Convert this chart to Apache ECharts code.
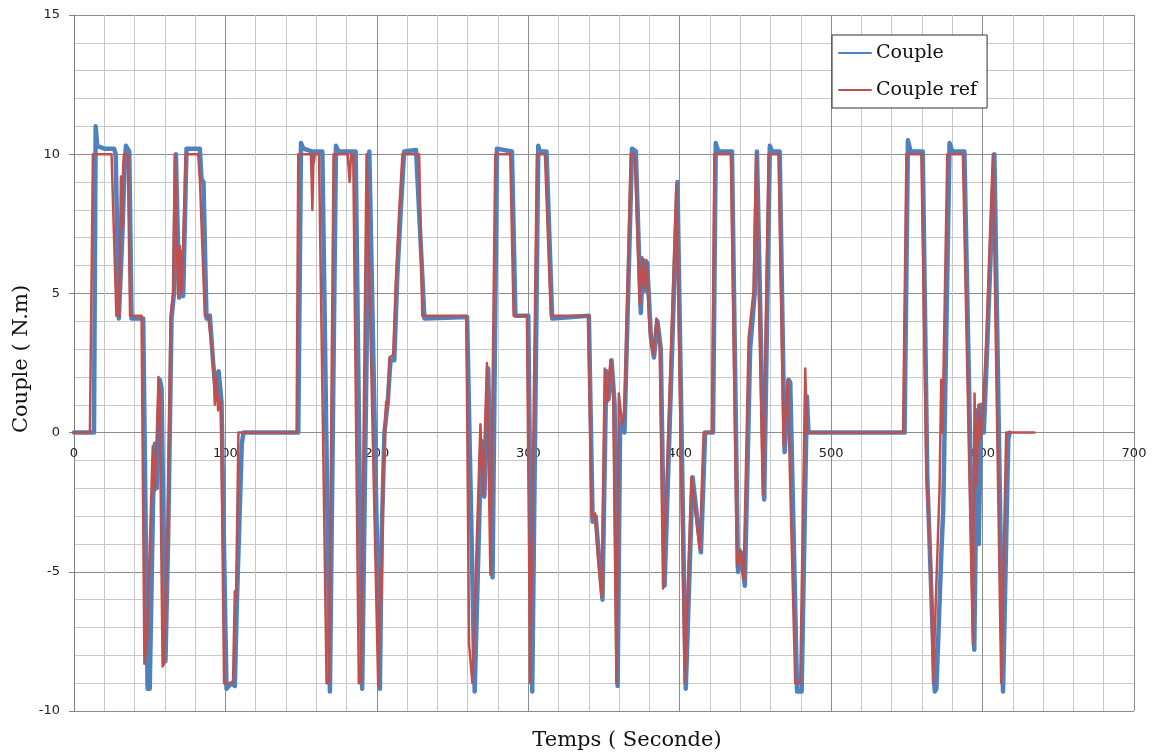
<!DOCTYPE html>
<html>
<head>
<meta charset="utf-8">
<script src="https://cdn.jsdelivr.net/npm/echarts@6/dist/echarts.min.js"></script>
<style>
html,body{margin:0;padding:0;background:#fff;}
#chart{width:1153px;height:756px;}
</style>
</head>
<body>
<div id="chart"></div>
<script>
// ---- data ----
const xTicks = [0, 100, 200, 300, 400, 500, 600, 700];
const yTicks = [-10, -5, 0, 5, 10, 15];

// "Couple ref" (red)
const refT = [0,10.5,12.5,24.8,28.0,29.8,31.0,31.8,32.5,33.0,35.5,37.0,44.6,46.5,47.5,48.2,52.0,53.3,54.5,55.8,56.5,58.5,59.5,62.0,63.8,65.5,66.6,68.8,69.9,70.9,72.0,73.8,82.0,83.2,86.4,88.6,91.9,93.0,94.1,95.2,97.0,99.1,105.0,106.2,107.0,108.6,
147.0,148.1,156.5,157.4,158.2,161.8,166.8,168.4,171.4,180.7,182.0,183.0,184.4,188.1,189.5,193.2,200.9,202.4,203.0,204.4,206.1,207.2,208.3,210.8,212.5,214.7,216.9,227.9,230.0,259.1,260.9,263.1,268.4,270.1,272.7,275.0,278.2,288.1,290.3,299.1,301.3,305.7,
311.0,314.9,339.6,341.8,344.0,346.0,348.4,350.5,352.3,354.3,356.0,358.2,359.8,362.0,363.5,367.7,370.3,373.6,375.2,376.5,378.0,380.2,382.4,384.6,386.8,389.0,397.8,403.3,407.7,413.2,415.8,
421.3,422.9,433.8,437.8,440.0,442.2,445.5,448.8,450.5,454.9,458.7,465.3,468.6,471.2,476.3,479.6,482.9,484.0,
547.5,549.7,559.6,562.9,565.8,567.3,568.5,571.6,572.7,573.5,576.7,587.0,593.6,594.7,596.0,597.3,598.6,600.2,602.4,606.8,612.3,615.6,634.3];
const refV = [0,0,10,10,4.2,4.2,9.2,7.4,9.6,10,10,4.2,4.2,-8.3,-8.3,-7.5,-0.5,-2.1,-0.4,2.0,1.5,-8.4,-8.3,-3.0,4.2,5.0,10,4.85,6.7,5.0,6.6,10,10,9.0,4.2,4.2,2.6,1.0,2.0,0.8,1.2,-9.0,-9.0,-5.7,-6.0,0,
0,10,10,8.0,10,10,-9.0,-9.0,10,10,9.0,10,10,-9.0,-9.0,10,-9.1,-4.9,-6.0,-1.1,1.1,1.0,2.7,2.8,5.4,7.9,10,10,4.2,4.2,-7.6,-9.0,0.3,-2.25,2.5,-5.1,10,10,4.2,4.2,-9.0,10,
10,4.2,4.2,-3.05,-2.9,-4.5,-5.9,2.3,1.1,2.6,1.8,-9.0,1.4,0.3,0.8,10,10,4.6,6.3,5.2,6.2,3.6,2.8,4.1,3.1,-5.6,8.9,-9.0,-1.6,-4.2,0,
0,10,10,-4.8,-4.2,-5.3,3.4,5.1,10,-2.25,10,10,-0.45,1.9,-9.0,-9.0,2.3,0,
0,10,10,-1.45,-4.65,-9.0,-9.0,-2.0,1.9,0,10,10,-7.6,1.4,-1.9,1.0,-0.25,0.7,3.3,10,-9.0,0,0];

// "Couple" (blue)
const cplT = [0,13.2,14.3,15.3,20.0,26.5,27.5,29.6,30.8,32.0,33.2,34.3,36.5,38.0,45.7,48.6,50.0,52.3,53.4,54.6,56.7,57.8,60.4,62.2,64.4,66.0,67.3,69.5,70.6,72.1,74.3,83.1,84.2,85.5,87.5,89.7,91.9,94.1,95.5,97.4,100.7,104.0,106.2,107.5,110.8,111.9,
148.1,149.9,151.5,157.0,157.8,158.6,164.0,169.0,170.0,173.0,174.5,186.0,190.3,191.0,195.0,202.0,203.2,205.0,207.2,209.0,211.5,213.5,215.7,218.0,225.9,231.4,259.6,264.6,265.5,269.0,271.0,273.5,276.4,279.3,289.2,291.5,300.0,302.6,303.5,306.6,307.5,
312.0,315.8,340.0,342.5,344.5,349.0,351.5,353.0,355.0,357.0,359.0,360.6,362.5,363.5,368.5,371.0,374.3,375.8,377.0,378.5,381.0,383.0,385.3,387.5,390.0,398.5,404.0,408.5,414.0,416.8,
422.0,423.8,425.5,434.5,438.5,440.5,443.0,446.5,449.5,451.0,455.8,459.5,461.0,466.0,469.3,472.0,473.0,477.5,480.5,484.0,485.0,
548.5,550.7,552.5,560.5,563.5,568.4,569.5,572.8,574.0,578.2,580.0,588.0,594.5,596.5,597.5,599.0,600.8,603.0,607.8,613.5,614.5,617.0,618.0];
const cplV = [0,0,11.0,10.3,10.2,10.2,10.0,4.1,4.1,7.2,9.2,10.3,10.1,4.1,4.1,-9.2,-9.2,-2.2,-0.4,-2.0,1.9,1.6,-8.2,-3.7,4.1,5.0,10.0,4.85,6.5,4.9,10.2,10.2,9.1,9.0,4.1,4.2,2.5,1.2,2.2,1.1,-9.2,-9.0,-9.1,-6.2,-0.4,0,
0,10.4,10.2,10.1,9.7,10.1,10.1,-9.3,-9.3,10.3,10.1,10.1,-9.2,-9.2,10.1,-9.2,-3.7,0,1.1,2.6,2.6,5.65,7.9,10.1,10.15,4.1,4.15,-9.3,-9.3,-0.3,-2.3,2.3,-5.2,10.2,10.1,4.2,4.2,-9.3,-9.3,10.3,10.1,
10.1,4.1,4.2,-3.2,-3.0,-6.0,2.2,1.2,2.6,1.0,-9.1,0.0,0.5,0.0,10.2,10.1,4.3,6.2,5.1,6.1,3.4,2.7,4.0,3.0,-5.5,9.0,-9.2,-1.6,-4.3,0,
0,10.4,10.1,10.1,-5.0,-4.3,-5.5,3.0,5.0,10.1,-2.4,10.3,10.1,10.1,-0.7,1.9,1.8,-9.3,-9.3,1.3,0,
0,10.5,10.1,10.1,-1.6,-9.3,-9.2,-4.3,-2.8,10.4,10.1,10.1,-7.8,0.8,-4.0,1.0,0.0,3.0,10.0,-9.3,-9.3,-0.2,0];

const pairs = (t, v) => t.map((x, i) => [x, v[i]]);

const GRID_TOP = 15, GRID_BOTTOM = 45, H = 756;
const plotH = H - GRID_TOP - GRID_BOTTOM;
const yMin = yTicks[0], yMax = yTicks[yTicks.length - 1];
// distance from the bottom edge of the plot up to the value 0 (x axis crosses there)
const zeroOffset = plotH * (0 - yMin) / (yMax - yMin);

const MAJOR = '#8c8c8c', MINOR = '#c8c8c8';
const chart = echarts.init(document.getElementById('chart'), null, {renderer: 'canvas'});
chart.setOption({
  animation: false,
  backgroundColor: '#ffffff',
  grid: {left: 74, right: 19, top: GRID_TOP, bottom: GRID_BOTTOM, containLabel: false},
  legend: {
    left: 832, top: 35, orient: 'vertical',
    backgroundColor: '#ffffff', borderColor: '#333333', borderWidth: 1,
    padding: [6, 10, 6, 6], itemGap: 13, itemWidth: 32, itemHeight: 14,
    textStyle: {fontFamily: 'DejaVu Serif', fontSize: 19, color: '#111', lineHeight: 24},
    data: ['Couple', 'Couple ref']
  },
  xAxis: {
    type: 'value', min: xTicks[0], max: xTicks[xTicks.length - 1], interval: 100,
    position: 'bottom', offset: -zeroOffset,
    axisLine: {show: true, onZero: false, lineStyle: {color: MAJOR, width: 1}},
    axisTick: {show: false},
    axisLabel: {margin: 15, color: '#222', fontFamily: 'DejaVu Sans', fontSize: 13,
      formatter: v => xTicks.includes(v) ? String(v) : ''},
    splitLine: {show: true, lineStyle: {color: MAJOR, width: 1}},
    minorTick: {show: false, splitNumber: 5},
    minorSplitLine: {show: true, lineStyle: {color: MINOR, width: 1}}
  },
  yAxis: {
    type: 'value', min: yMin, max: yMax, interval: 5,
    axisLine: {show: true, onZero: false, lineStyle: {color: '#808080', width: 1}},
    axisTick: {show: true, inside: false, length: 5, lineStyle: {color: '#808080'}},
    axisLabel: {margin: 14, color: '#222', fontFamily: 'DejaVu Sans', fontSize: 13,
      formatter: v => yTicks.includes(v) ? String(v) : ''},
    splitLine: {show: true, lineStyle: {color: MAJOR, width: 1}},
    minorTick: {show: false, splitNumber: 5},
    minorSplitLine: {show: true, lineStyle: {color: MINOR, width: 1}}
  },
  series: [
    {name: 'Couple', type: 'line', symbol: 'circle', symbolSize: 0, showSymbol: false, data: pairs(cplT, cplV),
     lineStyle: {color: '#4f81bd', width: 4.5, cap: 'round', join: 'round'},
     itemStyle: {color: '#4f81bd', opacity: 0}, z: 2},
    {name: 'Couple ref', type: 'line', symbol: 'circle', symbolSize: 0, showSymbol: false, data: pairs(refT, refV),
     lineStyle: {color: '#c0504d', width: 2.5, cap: 'round', join: 'round'},
     itemStyle: {color: '#c0504d', opacity: 0}, z: 3}
  ],
  graphic: [
    {type: 'text', x: 22, y: 359, rotation: Math.PI / 2,
     style: {text: 'Couple ( N.m)', font: '21px "DejaVu Serif"', fill: '#111', align: 'center', verticalAlign: 'middle'}},
    {type: 'text', x: 627, y: 741,
     style: {text: 'Temps ( Seconde)', font: '21px "DejaVu Serif"', fill: '#111', align: 'center', verticalAlign: 'middle'}}
  ]
});
</script>
</body>
</html>
